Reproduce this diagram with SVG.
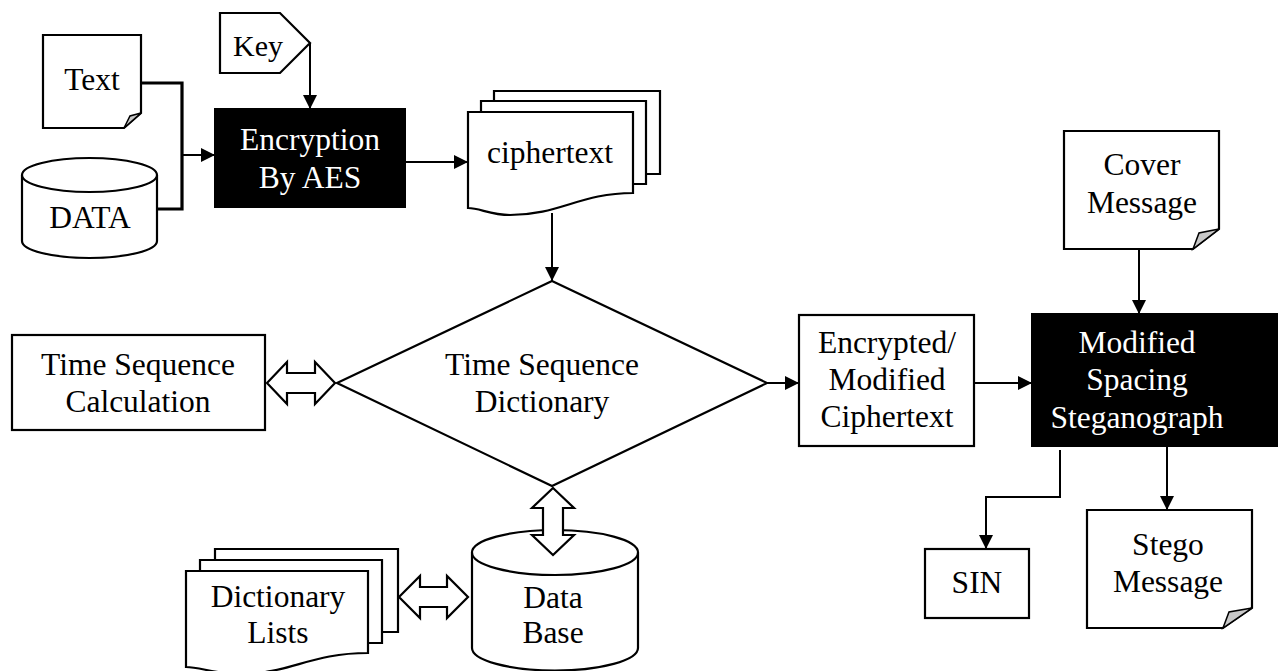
<svg xmlns="http://www.w3.org/2000/svg" width="1279" height="671" viewBox="0 0 1279 671">
<defs>
<style>
.s{fill:#fff;stroke:#000;stroke-width:2.2;stroke-linejoin:miter}
.blk{fill:#000;stroke:#000;stroke-width:2}
.fold{fill:#c8c8c8;stroke:#000;stroke-width:1.5}
.t{font-family:"Liberation Serif","Times New Roman",serif;font-size:31.5px;fill:#000;text-anchor:middle}
.w{fill:#fff}
.c{fill:none;stroke:#000;stroke-width:2}
.thick{fill:none;stroke:#000;stroke-width:3.2}
.blockarrow{fill:#fff;stroke:#000;stroke-width:2.2;stroke-linejoin:miter}
</style>
<marker id="ah" markerUnits="userSpaceOnUse" markerWidth="14" markerHeight="14" viewBox="0 0 14 14" refX="14" refY="7" orient="auto">
<path d="M0,0 L14,7 L0,14 Z" fill="#000"/>
</marker>
</defs>
<rect width="1279" height="671" fill="#fff"/>

<g id="text-note">
<path class="s" d="M43,35 H141 V113 L124,128 H43 Z"/>
<path class="fold" d="M124,128 L141,113 L130,116 Z"/>
<text class="t" x="92" y="90">Text</text>
</g>

<g id="key">
<path class="s" d="M220,13 H280 L310,43 L280,73 H220 Z"/>
<text class="t" x="258" y="56" style="font-size:30px">Key</text>
</g>

<g id="data">
<path class="s" d="M22,175 V241 A67.5,17 0 0 0 157,241 V175"/>
<ellipse class="s" cx="89.5" cy="175" rx="67.5" ry="17"/>
<text class="t" x="90" y="228">DATA</text>
</g>

<g id="encryption">
<rect class="blk" x="215" y="109" width="190" height="98"/>
<text class="t w" x="310" y="150">Encryption</text>
<text class="t w" x="310" y="188">By AES</text>
</g>

<g id="ciphertext">
<path class="s" d="M494,101 V91 H660 V174 H646"/>
<path class="s" d="M481,112 V101 H646 V184 H633"/>
<path class="s" d="M468,112 H633 V193 C580,193 560,215 510,215 C490,215 480,208 468,208 Z"/>
<text class="t" x="550" y="163">ciphertext</text>
</g>

<g id="time-seq-dict">
<polygon class="s" points="552,281 767,383 552,486 337,383"/>
<text class="t" x="542" y="375">Time Sequence</text>
<text class="t" x="542" y="412">Dictionary</text>
</g>

<g id="time-seq-calc">
<rect class="s" x="12" y="335" width="253" height="95"/>
<text class="t" x="138" y="375">Time Sequence</text>
<text class="t" x="138" y="412">Calculation</text>
</g>

<g id="database">
<path class="s" d="M472,552.5 V648 A83,22.5 0 0 0 638,648 V552.5"/>
<ellipse class="s" cx="555" cy="552.5" rx="83" ry="22.5"/>
<text class="t" x="553" y="608">Data</text>
<text class="t" x="553" y="643">Base</text>
</g>

<g id="dictionary-lists">
<path class="s" d="M215,560 V549 H398 V632 H382"/>
<path class="s" d="M200,571 V560 H382 V643 H368"/>
<path class="s" d="M186,571 H368 V653 C310,653 290,674 240,674 C215,674 200,667 186,667 Z"/>
<text class="t" x="278" y="607">Dictionary</text>
<text class="t" x="278" y="643">Lists</text>
</g>

<g id="encrypted-modified">
<rect class="s" x="799" y="315" width="175" height="131"/>
<text class="t" x="887" y="353">Encrypted/</text>
<text class="t" x="887" y="390">Modified</text>
<text class="t" x="887" y="427">Ciphertext</text>
</g>

<g id="modified-spacing">
<rect class="blk" x="1032" y="314" width="245" height="132"/>
<text class="t w" x="1137" y="353">Modified</text>
<text class="t w" x="1137" y="390">Spacing</text>
<text class="t w" x="1137" y="428">Steganograph</text>
</g>

<g id="cover-message">
<path class="s" d="M1064,131 H1219 V229 L1193,249 H1064 Z"/>
<path class="fold" d="M1193,249 L1219,229 L1199,233 Z"/>
<text class="t" x="1142" y="175">Cover</text>
<text class="t" x="1142" y="213">Message</text>
</g>

<g id="stego-message">
<path class="s" d="M1087,510 H1252 V608 L1223,628 H1087 Z"/>
<path class="fold" d="M1223,628 L1252,608 L1229,612 Z"/>
<text class="t" x="1168" y="555">Stego</text>
<text class="t" x="1168" y="592">Message</text>
</g>

<g id="sin">
<rect class="s" x="925" y="549" width="104" height="69"/>
<text class="t" x="977" y="593">SIN</text>
</g>

<g id="connectors">
<polyline class="thick" points="141,83 182,83 182,209 157,209"/>
<line class="c" x1="182" y1="155" x2="215" y2="155" marker-end="url(#ah)"/>
<line class="c" x1="310" y1="43" x2="310" y2="109" marker-end="url(#ah)"/>
<line class="c" x1="405" y1="162" x2="468" y2="162" marker-end="url(#ah)"/>
<line class="c" x1="552" y1="213" x2="552" y2="281" marker-end="url(#ah)"/>
<line class="c" x1="767" y1="383" x2="799" y2="383" marker-end="url(#ah)"/>
<line class="c" x1="974" y1="383" x2="1032" y2="383" marker-end="url(#ah)"/>
<line class="c" x1="1139" y1="249" x2="1139" y2="314" marker-end="url(#ah)"/>
<line class="c" x1="1167" y1="446" x2="1167" y2="510" marker-end="url(#ah)"/>
<polyline class="c" points="1060,450 1060,497 986,497 986,549" marker-end="url(#ah)"/>
<polygon class="blockarrow" points="267,383 287,362 287,373 315,373 315,362 335,383 315,404 315,393 287,393 287,404"/>
<polygon class="blockarrow" points="553,488 574,508 563,508 563,535 574,535 553,555 532,535 543,535 543,508 532,508"/>
<polygon class="blockarrow" points="399,597 420,576 420,587 447,587 447,576 468,597 447,618 447,607 420,607 420,618"/>
</g>
</svg>
